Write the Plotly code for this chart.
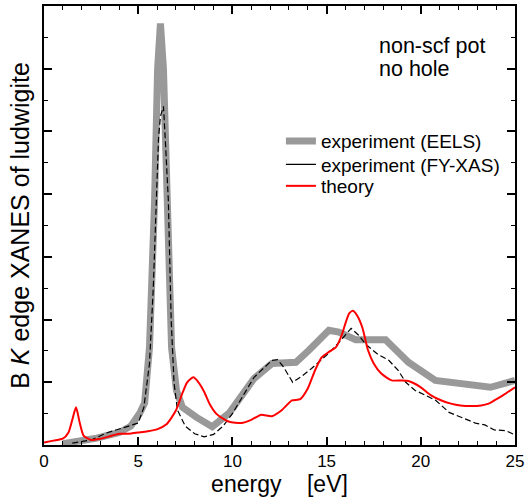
import plotly.graph_objects as go

# EELS experiment (thick gray)
eels_x = [1.0, 2.0, 2.8, 4.0, 4.6, 5.07, 5.34, 5.6, 5.76, 5.87, 6.03, 6.18, 6.34, 6.5, 6.66, 6.77, 7.03, 7.35, 8.1, 8.93,
          9.83, 10.9, 11.15, 12.1, 13.37, 14.06, 15.12, 15.65, 16.54, 18.13, 19.34, 20.77, 22.5, 23.7, 25.0]
eels_y = [0.02, 0.06, 0.11, 0.2, 0.3, 0.5, 0.67, 1.56, 2.62, 3.9, 6.0, 6.72, 6.0, 3.9, 2.62, 1.56, 0.87, 0.6, 0.44, 0.29,
          0.51, 0.98, 1.06, 1.3, 1.32, 1.51, 1.83, 1.8, 1.68, 1.68, 1.32, 1.03, 0.95, 0.92, 1.03]

# FY-XAS experiment (thin dashed black)
fy_x = [1.5, 2.5, 3.3, 4.2, 5.0, 5.3, 5.6, 5.8, 5.97, 6.08, 6.18, 6.34, 6.45, 6.6, 6.75, 6.9, 7.08, 7.5, 8.0, 8.5, 9.0,
        9.5, 10.0, 10.5, 11.15, 12.1, 12.4, 12.7, 13.2, 13.7, 14.2, 15.1, 15.7, 16.3, 16.7, 17.1, 17.7, 18.3, 18.8,
        19.2, 19.7, 20.2, 20.8, 21.5, 22.2, 22.9, 23.4, 23.9, 24.5, 25.0]
fy_y = [0.03, 0.08, 0.19, 0.27, 0.35, 0.6, 1.3, 2.5, 3.9, 4.9, 5.24, 5.4, 4.8, 3.9, 2.0, 1.0, 0.56, 0.3, 0.18, 0.13, 0.17,
        0.3, 0.5, 0.75, 1.08, 1.35, 1.36, 1.25, 1.0, 1.1, 1.22, 1.46, 1.65, 1.86, 1.75, 1.6, 1.45, 1.35, 1.19,
        1.0, 0.87, 0.8, 0.71, 0.52, 0.43, 0.35, 0.32, 0.24, 0.23, 0.16]

# theory (red)
th_x = [0.0, 0.5, 1.0, 1.3, 1.5, 1.7, 1.9, 2.1, 2.5, 3.0, 3.5, 4.0, 4.5, 5.0, 5.5, 6.0, 6.5, 7.0, 7.35, 7.6, 7.93, 8.2,
        8.5, 8.8, 9.14, 9.5, 9.83, 10.47, 11.0, 11.5, 12.1, 12.6, 13.16, 13.6, 14.0, 14.4, 14.75, 15.2, 15.5, 15.8,
        16.0, 16.2, 16.4, 16.65, 16.9, 17.2, 17.5, 17.9, 18.45, 19.0, 19.35, 20.0, 20.5, 21.1, 21.6, 22.1, 22.7,
        23.2, 23.6, 23.9, 24.4, 25.0]
th_y = [0.04, 0.07, 0.1, 0.2, 0.4, 0.6, 0.35, 0.15, 0.08, 0.1, 0.14, 0.18, 0.18, 0.2, 0.22, 0.25, 0.33, 0.55, 0.83, 1.0,
        1.08, 1.0, 0.85, 0.65, 0.5, 0.42, 0.37, 0.35, 0.4, 0.48, 0.46, 0.55, 0.71, 0.73, 0.9, 1.2, 1.4, 1.5, 1.56, 1.75,
        1.94, 2.1, 2.14, 2.05, 1.87, 1.51, 1.3, 1.14, 1.03, 1.03, 1.02, 0.92, 0.8, 0.71, 0.66, 0.63, 0.62,
        0.63, 0.66, 0.71, 0.8, 0.92]

series_names = ["experiment (EELS)", "experiment (FY-XAS)", "theory"]
note_lines = ["non-scf pot", "no hole"]

font = "Arial, 'Liberation Sans', sans-serif"

fig = go.Figure()
fig.add_trace(go.Scatter(x=eels_x, y=eels_y, mode="lines", name=series_names[0], legend="legend",
                         line=dict(color="#999999", width=7)))
fig.add_trace(go.Scatter(x=fy_x, y=fy_y, mode="lines", name=series_names[1], showlegend=False,
                         line=dict(color="black", width=1.2, dash="6px,3px")))
# legend entry for FY-XAS is drawn as a solid thin line, as in the reference key
fig.add_trace(go.Scatter(x=[None], y=[None], mode="lines", name=series_names[1], legend="legend2",
                         line=dict(color="black", width=1.2)))
fig.add_trace(go.Scatter(x=th_x, y=th_y, mode="lines", name=series_names[2], legend="legend3",
                         line=dict(color="#ff0000", width=2, shape="spline", smoothing=0.6)))

axis_common = dict(showline=True, linecolor="black", linewidth=1.5, mirror="ticks",
                   ticks="inside", ticklen=8, tickwidth=1.5, tickcolor="black",
                   showgrid=False, zeroline=False)

fig.update_xaxes(range=[0, 25], dtick=5, tick0=0,
                 tickfont=dict(size=17, color="black", family=font),
                 title=dict(text="energy&nbsp;&nbsp;&nbsp;&nbsp;[eV]", font=dict(size=23, color="black", family=font),
                            standoff=4),
                 minor=dict(dtick=1, ticks="inside", ticklen=4, tickwidth=1.2, tickcolor="black"),
                 **axis_common)
fig.update_yaxes(range=[0, 7], dtick=1, tick0=0, showticklabels=False,
                 title=dict(text="B <i>K</i> edge XANES of ludwigite", font=dict(size=25, color="black", family=font),
                            standoff=6),
                 minor=dict(dtick=0.5, ticks="inside", ticklen=4, tickwidth=1.2, tickcolor="black"),
                 **axis_common)

for txt, yy in zip(note_lines, [0.908, 0.856]):
    fig.add_annotation(x=0.706, y=yy, xref="paper", yref="paper", xanchor="left", yanchor="middle",
                       text=txt, showarrow=False, align="left",
                       font=dict(size=21.5, color="black", family=font))

leg_common = dict(xanchor="left", yanchor="middle", bgcolor="rgba(0,0,0,0)",
                  font=dict(size=19, color="black", family=font), itemwidth=30)

fig.update_layout(
    width=528, height=503,
    margin=dict(l=44, r=11, t=4, b=58),
    plot_bgcolor="white", paper_bgcolor="white",
    font=dict(family=font, color="black"),
    showlegend=True,
    legend=dict(x=0.503, y=0.692, **leg_common),
    legend2=dict(x=0.503, y=0.639, **leg_common),
    legend3=dict(x=0.503, y=0.590, **leg_common),
)

fig.write_html("out.html")
